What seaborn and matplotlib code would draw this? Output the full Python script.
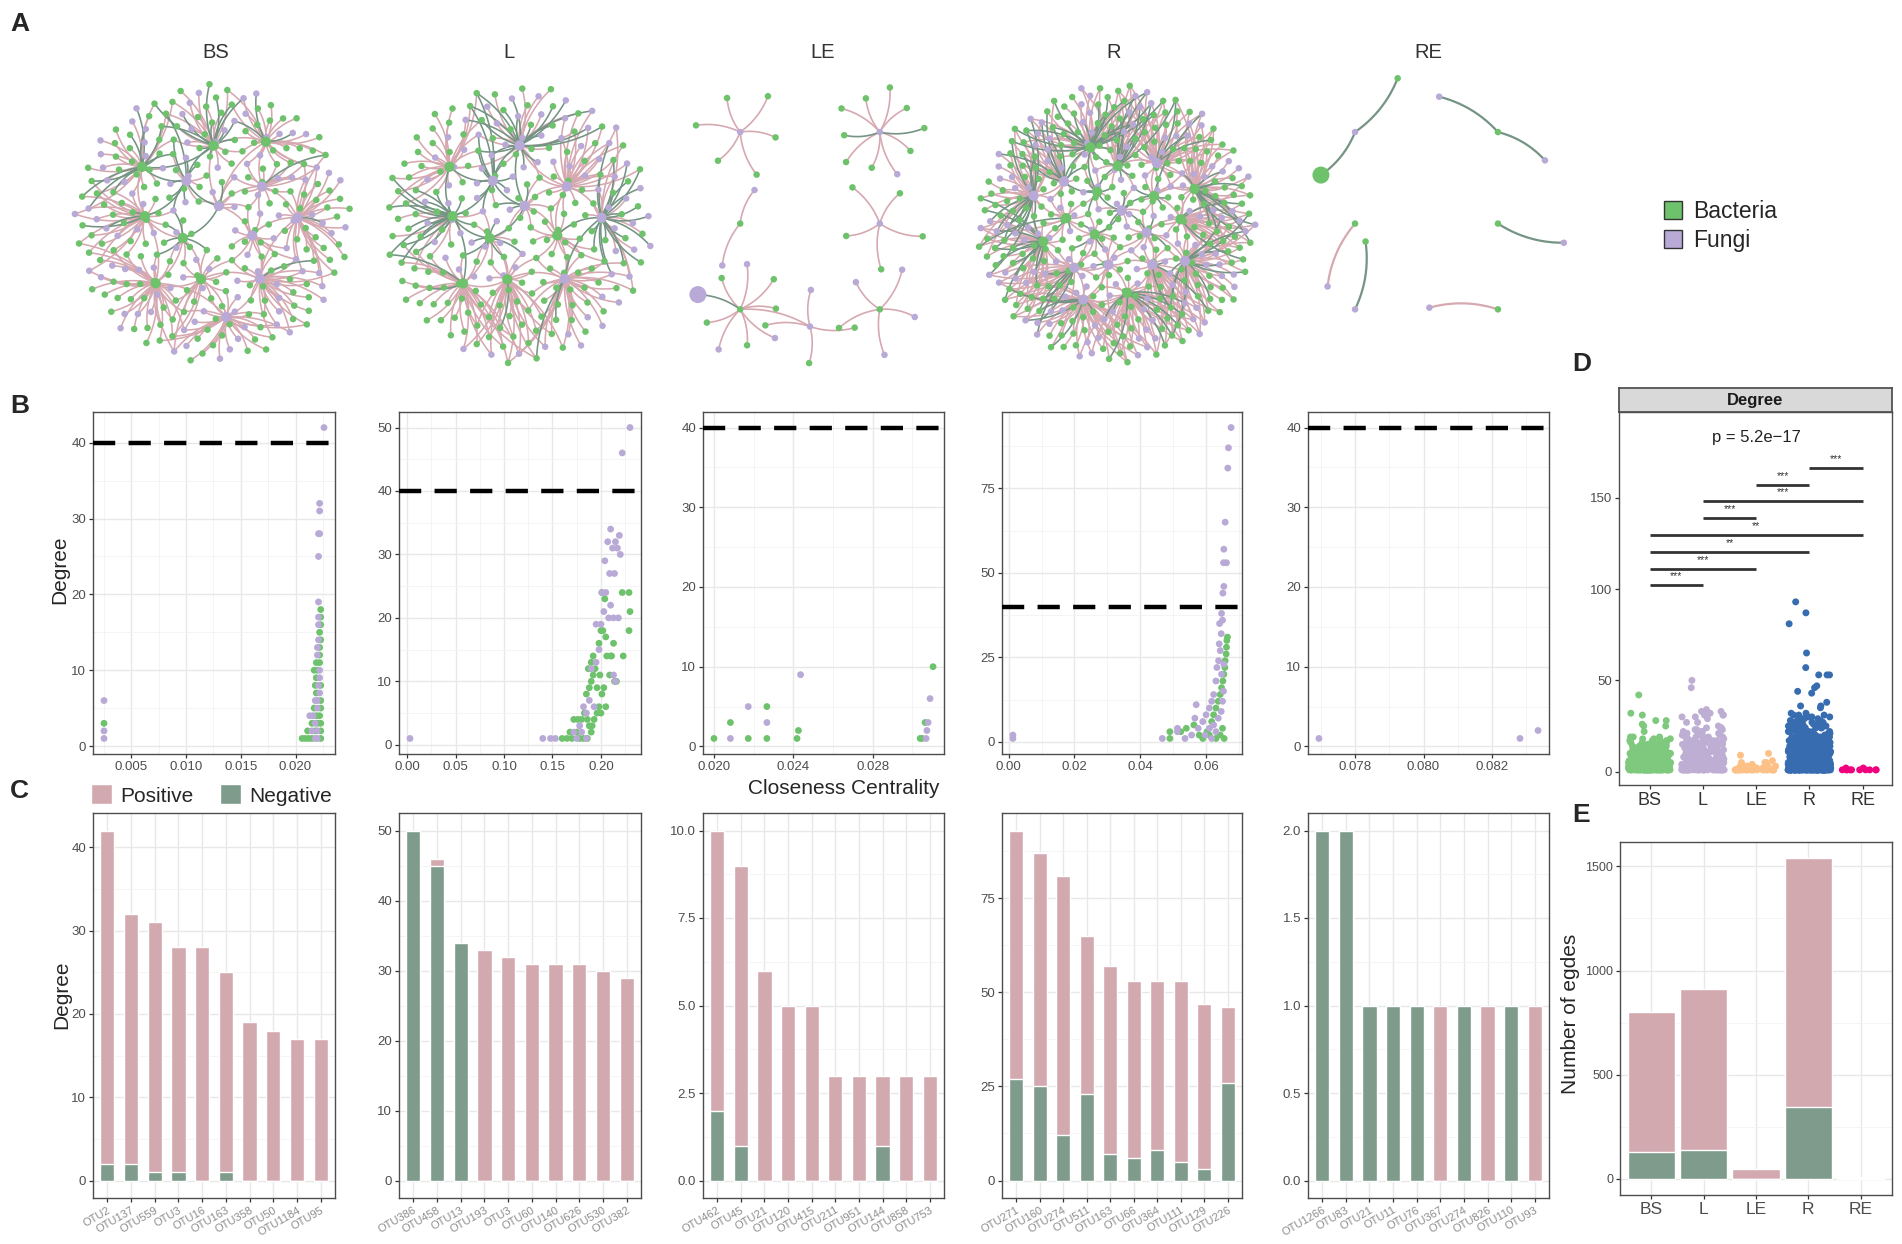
import numpy as np
import pandas as pd
import matplotlib
matplotlib.use("Agg")
import matplotlib.pyplot as plt
import seaborn as sns
from matplotlib.collections import LineCollection
from matplotlib.patches import Patch
from matplotlib.ticker import AutoMinorLocator, FormatStrFormatter

# ----- DATA ----- #
GROUPS = ['BS', 'L', 'LE', 'R', 'RE']

# panel B: closeness centrality vs degree (bacteria / fungi)
BS_CC_B = [.0025, .0206, .0209, .0212, .0215, .0223, .0211, .0218, .0223, .0215, .0220, .0223,
           .0219, .0222, .0217, .0223, .0223, .0219, .0218, .0223, .0219, .0217, .0220, .0219,
           .0222, .0222, .0222, .0223, .0222, .0223, .0223, .0223]
BS_DEG_B = [3, 1, 1, 1, 1, 1, 2, 2, 2, 3, 3, 3, 4, 4, 5, 5, 6, 7, 8, 8, 9, 10, 10, 11, 11,
            12, 13, 14, 15, 16, 17, 18]
BS_CC_F = [.0025, .0025, .0025, .0218, .0220, .0215, .0220, .0218, .0213, .0216, .0220, .0218,
           .0220, .0222, .0221, .0222, .0222, .0220, .0220, .0221, .0221, .0221, .0221, .0221,
           .0221, .0222, .0222, .0222, .0226]
BS_DEG_F = [1, 2, 6, 1, 1, 2, 2, 3, 4, 4, 5, 6, 6, 7, 8, 9, 10, 12, 13, 14, 16, 17, 19, 25,
            28, 28, 31, 32, 42]

L_CC_B = [.160, .165, .168, .170, .175, .178, .182, .186, .190, .172, .176, .180, .183, .186,
          .188, .191, .193, .196, .198, .200, .185, .188, .190, .192, .194, .196, .199, .201,
          .203, .187, .190, .192, .198, .200, .202, .205, .206, .210, .204, .201, .213, .211,
          .223, .229, .230, .222, .229, .214, .216, .205, .209]
L_DEG_B = [1, 1, 2, 1, 2, 1, 1, 1, 2, 4, 4, 4, 5, 4, 3, 3, 4, 5, 6, 5, 8, 9, 10, 11, 12, 9,
           11, 8, 9, 12, 13, 14, 16, 18, 18, 17, 14, 14, 23, 24, 16, 14, 14, 18, 21, 24, 24,
           10, 10, 6, 11]
L_CC_F = [.003, .140, .148, .153, .175, .185, .172, .180, .178, .185, .182, .188, .193, .190,
          .195, .198, .200, .203, .201, .205, .208, .210, .212, .215, .210, .207, .217, .220,
          .219, .214, .209, .204, .213, .218, .195, .215, .213, .222, .230]
L_DEG_F = [1, 1, 1, 1, 1, 1, 2, 2, 3, 5, 6, 7, 6, 12, 13, 15, 19, 21, 24, 24, 20, 22, 31, 32,
           34, 32, 31, 30, 33, 27, 27, 29, 20, 20, 19, 10, 11, 46, 50]

LE_CC_B = [.0200, .02083, .02173, .02267, .02267, .02426, .02419, .03105, .0304, .0305, .03065]
LE_DEG_B = [1, 3, 1, 5, 1, 2, 1, 10, 1, 1, 3]
LE_CC_F = [.02083, .02173, .02267, .02437, .0309, .0308, .03074, .0307]
LE_DEG_F = [1, 5, 3, 9, 6, 3, 2, 1]

R_CC_B = [.049, .049, .0523, .054, .0563, .0579, .059, .0603, .0617, .0623, .063, .0637, .0643,
          .0647, .0651, .0654, .0657, .0658, .0661, .0662, .0663, .0665, .0655, .063, .061,
          .065, .0643]
R_DEG_B = [3, 1, 3, 4, 5, 2, 1, 3, 6, 8, 10, 12, 14, 16, 18, 20, 22, 24, 26, 28, 30, 31, 1, 1,
           2, 4, 2]
R_CC_F = [.0013, .0013, .0467, .0513, .0513, .057, .0566, .0536, .0556, .0576, .059, .060, .061,
          .0617, .0623, .063, .0633, .0638, .0643, .064, .0676, .0668, .0666, .0658, .0654,
          .0653, .0662, .0654, .0651, .0647, .0641, .0650, .0646, .061, .0623, .063, .0637,
          .0617, .0597, .0646, .065, .0653, .0647, .0654]
R_DEG_F = [1, 2, 1, 4, 3, 11, 7, 1, 2, 4, 6, 8, 10, 12, 14, 18, 22, 24, 27, 29, 93, 87, 81, 65,
           57, 53, 53, 46, 44, 38, 35, 36, 32, 4, 5, 3, 7, 1, 2, 9, 12, 15, 20, 23]

RE_CC_B = []
RE_DEG_B = []
RE_CC_F = [.07693, .08283, .08336]
RE_DEG_F = [1, 1, 2]

# panel C: top-10 hubs, total degree and negative links
C_OTUS = [
    ['OTU2', 'OTU137', 'OTU559', 'OTU3', 'OTU16', 'OTU163', 'OTU358', 'OTU50', 'OTU1184', 'OTU95'],
    ['OTU386', 'OTU458', 'OTU13', 'OTU193', 'OTU3', 'OTU60', 'OTU140', 'OTU626', 'OTU530', 'OTU382'],
    ['OTU462', 'OTU45', 'OTU21', 'OTU120', 'OTU415', 'OTU211', 'OTU951', 'OTU144', 'OTU858', 'OTU753'],
    ['OTU271', 'OTU160', 'OTU274', 'OTU511', 'OTU163', 'OTU66', 'OTU364', 'OTU111', 'OTU129', 'OTU226'],
    ['OTU1266', 'OTU83', 'OTU21', 'OTU11', 'OTU76', 'OTU367', 'OTU274', 'OTU826', 'OTU110', 'OTU93'],
]
C_TOTAL = [
    [42, 32, 31, 28, 28, 25, 19, 18, 17, 17],
    [50, 46, 34, 33, 32, 31, 31, 31, 30, 29],
    [10, 9, 6, 5, 5, 3, 3, 3, 3, 3],
    [93, 87, 81, 65, 57, 53, 53, 53, 47, 46],
    [2, 2, 1, 1, 1, 1, 1, 1, 1, 1],
]
C_NEG = [
    [2, 2, 1, 1, 0, 1, 0, 0, 0, 0],
    [50, 45, 34, 0, 0, 0, 0, 0, 0, 0],
    [2, 1, 0, 0, 0, 0, 0, 1, 0, 0],
    [27, 25, 12, 23, 7, 6, 8, 5, 3, 26],
    [2, 2, 1, 1, 1, 0, 1, 0, 1, 0],
]

# panel D: degree of every node (value, number of nodes)
D_BS_VALUES = list(range(1, 20)) + [22, 25, 26, 28, 31, 32, 42]
D_BS_COUNTS = [55, 38, 28, 22, 18, 15, 12, 11, 10, 9, 8, 7, 6, 6, 5, 4, 4, 3, 3, 1, 2, 1, 2, 1, 1, 1]
D_L_VALUES = list(range(1, 25)) + [25, 27, 29, 30, 31, 32, 33, 34, 46, 50]
D_L_COUNTS = [40, 28, 22, 18, 15, 13, 12, 10, 9, 9, 8, 7, 7, 6, 6, 5, 5, 4, 4, 4, 3, 3, 3, 3,
              1, 2, 1, 2, 3, 2, 2, 1, 1, 1]
D_LE_VALUES = [1, 2, 3, 4, 5, 6, 9, 10]
D_LE_COUNTS = [28, 8, 6, 1, 3, 1, 1, 1]
D_R_VALUES = list(range(1, 32)) + [32, 35, 36, 38, 43, 44, 46, 47, 53, 57, 65, 81, 87, 93]
D_R_COUNTS = [90, 65, 50, 40, 34, 30, 26, 22, 20, 18, 16, 15, 14, 13, 12, 11, 10, 9, 8, 8, 7, 7,
              6, 6, 5, 5, 4, 4, 3, 3, 3, 2, 1, 2, 1, 1, 1, 1, 1, 3, 1, 1, 1, 1, 1]
D_RE_VALUES = [1, 2]
D_RE_COUNTS = [10, 2]
D_PAIRS = [(0, 1), (0, 2), (0, 3), (0, 4), (1, 2), (1, 4), (2, 3), (3, 4)]
D_STARS = ['***', '***', '**', '**', '***', '***', '***', '***']
D_PVALUE = 'p = 5.2e\u221217'

# panel E: number of edges
E_TOTAL = [803, 911, 48, 1540, 8]
E_NEG = [129, 140, 0, 343, 6]

# panel A: network structure
BS_NET = dict(n_leaf=300, n_fungi=105, hub_tax='fbffbfbfbbfbfb',
              hub_neg=[.15, .5, .05, .6, 0, .05, .1, .05, .45, 0, .05, .3, 0, .1])
L_NET = dict(n_leaf=260, n_fungi=80, hub_tax='fbbfbfbffbfb',
             hub_neg=[.3, .45, .05, .95, .05, 0, .7, .05, .55, .05, .6, 0])
R_NET = dict(n_leaf=430, n_fungi=150, hub_tax='fbfbfbbfbfbfbfbfbfbf',
             hub_neg=[.5, .3, .2, .4, .1, .3, .2, .1, .4, .2, .1, .3, .2, .1, .3, .2, .4, .1, .2, .3])
# sparse networks: (hub, leaves, edge signs); component id for each star
LE_STARS = [('f', 'bbbbbb', '++++++'), ('f', 'bbbbfbbbbb', '+-++++-+++'), ('b', 'ff', '++'),
            ('f', 'bbbbb', '+++++'), ('b', 'fbFbfbfbb', '++-++++++'), ('f', 'bbbf', '++++'),
            ('b', 'ffffb', '+++++')]
LE_COMP = [0, 1, 2, 3, 4, 4, 5]
RE_STARS = [('f', 'bB', '--'), ('b', 'ff', '--'), ('b', 'f', '+'), ('b', 'f', '-'),
            ('f', 'b', '-'), ('b', 'f', '+')]
RE_COMP = [0, 1, 2, 3, 4, 5]

# ----- STYLE ----- #
BACT, FUNG = '#6DC26B', '#B8A9D6'
POS, NEG = '#D3A9B0', '#7E9B8C'
EDGE_POS, EDGE_NEG = '#D6A9B1', '#759484'
ACCENT = ['#7FC97F', '#BEAED4', '#FDC086', '#386CB0', '#F0027F']
TAX = {'b': BACT, 'B': BACT, 'f': FUNG, 'F': FUNG}

sns.set_theme(style='white')
plt.rcParams['font.family'] = ['Liberation Sans', 'DejaVu Sans']

W, H = 1902, 1244
fig = plt.figure(figsize=(W / 100, H / 100), dpi=100)


def box(x0, y0, x1, y1):
    return fig.add_axes([x0 / W, 1 - y1 / H, (x1 - x0) / W, (y1 - y0) / H])


def gg(ax, grid=True, size=9.5):
    for s in ax.spines.values():
        s.set_visible(True)
        s.set_color('#4D4D4D')
        s.set_linewidth(1.0)
    ax.tick_params(which='major', colors='#333333', labelcolor='#4D4D4D', length=3, width=0.9,
                   labelsize=size, direction='out', bottom=True, left=True, pad=2)
    ax.tick_params(which='minor', length=0)
    if grid:
        ax.grid(True, which='major', color='#E8E8E8', lw=1.0)
        ax.grid(True, which='minor', color='#F3F3F3', lw=0.6)
        ax.set_axisbelow(True)
    else:
        ax.grid(False)


def expand(lo, hi, f=0.05):
    pad = (hi - lo) * f
    return lo - pad, hi + pad


# ----- network helpers ----- #
GOLDEN = np.pi * (3 - np.sqrt(5))


def sunflower(n, hole=0.0):
    k = np.arange(n) + 0.5
    r = np.sqrt(hole ** 2 + (1 - hole ** 2) * k / n)
    return np.c_[r * np.cos(k * GOLDEN), r * np.sin(k * GOLDEN)]


def arc(p, q, bend):
    d = q - p
    c = (p + q) / 2 + bend * np.array([-d[1], d[0]])
    t = np.linspace(0, 1, 14)[:, None]
    return (1 - t) ** 2 * p + 2 * (1 - t) * t * c + t ** 2 * q


def draw_edges(ax, segs, signs, lw):
    ax.add_collection(LineCollection([s for s, g in zip(segs, signs) if g > 0],
                                     colors=EDGE_POS, lw=lw, zorder=1))
    ax.add_collection(LineCollection([s for s, g in zip(segs, signs) if g < 0],
                                     colors=EDGE_NEG, lw=lw, zorder=2))


def dense_network(ax, n_leaf, n_fungi, hub_tax, hub_neg, hole=0.0, share=1.15, spread=0.7):
    leaves = sunflower(n_leaf, hole) * 0.98
    hubs = sunflower(len(hub_tax)) * spread
    k = np.arange(n_leaf)
    fungi = np.floor((k + 1) * n_fungi / n_leaf) > np.floor(k * n_fungi / n_leaf)
    dist = np.linalg.norm(leaves[:, None, :] - hubs[None, :, :], axis=2)
    order = np.argsort(dist, axis=1)
    used = np.zeros(len(hub_tax), int)
    segs, signs = [], []
    for i in range(n_leaf):
        near = order[i]
        targets = [h for h in near[:3] if dist[i, h] < share * dist[i, near[0]]]
        for h in targets:
            c = used[h]
            used[h] += 1
            neg = np.floor((c + 1) * hub_neg[h]) > np.floor(c * hub_neg[h])
            segs.append(arc(leaves[i], hubs[h], 0.16 if i % 2 else -0.16))
            signs.append(-1 if neg else 1)
    hd = np.linalg.norm(hubs[:, None] - hubs[None], axis=2)
    pairs = set()
    for a in range(len(hubs)):
        for b in np.argsort(hd[a])[1:4]:
            pairs.add((min(a, b), max(a, b)))
    for a, b in sorted(pairs):
        segs.append(arc(hubs[a], hubs[b], 0.22))
        signs.append(-1 if (hub_neg[a] + hub_neg[b]) / 2 > 0.3 else 1)
    draw_edges(ax, segs, signs, 1.15)
    ax.scatter(leaves[:, 0], leaves[:, 1], s=22, c=[FUNG if f else BACT for f in fungi],
               linewidths=0, zorder=3)
    ax.scatter(hubs[:, 0], hubs[:, 1], s=55, c=[TAX[t] for t in hub_tax], linewidths=0, zorder=4)


def sparse_network(ax, stars, comps, radius, lw, rows=(0.64, 0.0, -0.6)):
    segs, signs, pts = [], [], []
    for c in sorted(set(comps)):
        centre = np.array([-0.5 + (c % 2), rows[c // 2]])
        members = [i for i, g in enumerate(comps) if g == c]
        prev = None
        for j, i in enumerate(members):
            hub_t, leaf_t, sign_t = stars[i]
            hub = centre + j * np.array([0.5, -0.12])
            n = len(leaf_t)
            a0 = 0.9 + 1.7 * i
            for k, (lt, st) in enumerate(zip(leaf_t, sign_t)):
                ang = a0 + 2 * np.pi * k / n
                r = radius * (1.0 if k % 2 == 0 else 0.8)
                p = hub + r * np.array([np.cos(ang), np.sin(ang)])
                segs.append(arc(hub, p, 0.15 if k % 2 else -0.15))
                signs.append(1 if st == '+' else -1)
                pts.append((p, lt))
            if prev is not None:
                segs.append(arc(prev, hub, 0.15))
                signs.append(1)
            pts.append((hub, hub_t))
            prev = hub
    draw_edges(ax, segs, signs, lw)
    xy = np.array([p for p, _ in pts])
    ax.scatter(xy[:, 0], xy[:, 1], c=[TAX[t] for _, t in pts],
               s=[150 if t.isupper() else 22 for _, t in pts], linewidths=0, zorder=3)


# ----- PANEL A ----- #
net_boxes = [(62, 72, 362, 378), (372, 72, 664, 378), (662, 72, 958, 378),
             (965, 72, 1268, 378), (1275, 72, 1578, 378)]
title_x = [216, 509, 823, 1114, 1428]
for g, bx, tx in zip(GROUPS, net_boxes, title_x):
    ax = box(*bx)
    ax.set_xlim(-1.06, 1.06)
    ax.set_ylim(-1.08, 1.06)
    ax.axis('off')
    if g == 'BS':
        dense_network(ax, hole=0.15, share=1.25, **BS_NET)
    elif g == 'L':
        dense_network(ax, share=1.3, spread=0.65, **L_NET)
    elif g == 'R':
        dense_network(ax, share=1.45, spread=0.62, **R_NET)
    elif g == 'LE':
        sparse_network(ax, LE_STARS, LE_COMP, 0.32, 1.2)
    else:
        sparse_network(ax, RE_STARS, RE_COMP, 0.48, 1.6)
    fig.text(tx / W, 1 - 52 / H, g, ha='center', va='center', fontsize=14.5, color='#333333')

fig.legend(handles=[Patch(facecolor=BACT, edgecolor='#333333', lw=1),
                    Patch(facecolor=FUNG, edgecolor='#333333', lw=1)],
           labels=['Bacteria', 'Fungi'], loc='center left', bbox_to_anchor=(1643 / W, 1 - 226 / H),
           frameon=False, fontsize=16.5, handlelength=0.8, handleheight=0.8, handletextpad=0.5,
           labelspacing=0.25)

# ----- PANEL B ----- #
b_x = [(93, 335), (399, 641), (703, 944), (1002, 1242), (1308, 1549)]
b_data = [(BS_CC_B, BS_DEG_B, BS_CC_F, BS_DEG_F), (L_CC_B, L_DEG_B, L_CC_F, L_DEG_F),
          (LE_CC_B, LE_DEG_B, LE_CC_F, LE_DEG_F), (R_CC_B, R_DEG_B, R_CC_F, R_DEG_F),
          (RE_CC_B, RE_DEG_B, RE_CC_F, RE_DEG_F)]
b_xticks = [[0.005, 0.010, 0.015, 0.020], [0, 0.05, 0.10, 0.15, 0.20], [0.020, 0.024, 0.028],
            [0, 0.02, 0.04, 0.06], [0.078, 0.080, 0.082]]
b_fmt = ['%.3f', '%.2f', '%.3f', '%.2f', '%.3f']
b_yticks = [[0, 10, 20, 30, 40], [0, 10, 20, 30, 40, 50], [0, 10, 20, 30, 40],
            [0, 25, 50, 75], [0, 10, 20, 30, 40]]
for (x0, x1), (ccb, degb, ccf, degf), xt, fm, yt in zip(b_x, b_data, b_xticks, b_fmt, b_yticks):
    ax = box(x0, 412, x1, 754)
    df = pd.DataFrame({'cc': list(ccb) + list(ccf), 'deg': list(degb) + list(degf),
                       'tax': ['Bacteria'] * len(ccb) + ['Fungi'] * len(ccf)})
    sns.scatterplot(data=df, x='cc', y='deg', hue='tax', palette={'Bacteria': BACT, 'Fungi': FUNG},
                    s=24, linewidth=0, legend=False, ax=ax, zorder=3)
    ax.axhline(40, color='black', lw=3.2, ls=(0, (5, 3)), zorder=4)
    ax.set_xlim(*expand(df.cc.min(), df.cc.max()))
    ax.set_ylim(*expand(min(df.deg.min(), 40), max(df.deg.max(), 40)))
    ax.set_xticks(xt)
    ax.xaxis.set_major_formatter(FormatStrFormatter(fm))
    ax.set_yticks(yt)
    ax.xaxis.set_minor_locator(AutoMinorLocator(2))
    ax.yaxis.set_minor_locator(AutoMinorLocator(2))
    ax.set_xlabel('')
    ax.set_ylabel('')
    gg(ax)

fig.text(60 / W, 1 - 570 / H, 'Degree', rotation=90, ha='center', va='center', fontsize=15)
fig.text(844 / W, 1 - 788 / H, 'Closeness Centrality', ha='center', va='center', fontsize=15)

# ----- PANEL C ----- #
c_yticks = [[0, 10, 20, 30, 40], [0, 10, 20, 30, 40, 50], [0, 2.5, 5.0, 7.5, 10.0],
            [0, 25, 50, 75], [0, 0.5, 1.0, 1.5, 2.0]]
c_fmt = ['%d', '%d', '%.1f', '%d', '%.1f']
for (x0, x1), otus, tot, neg, yt, fm in zip(b_x, C_OTUS, C_TOTAL, C_NEG, c_yticks, c_fmt):
    ax = box(x0, 813, x1, 1198)
    sns.barplot(x=otus, y=tot, color=POS, width=0.6, saturation=1, errorbar=None, ax=ax)
    sns.barplot(x=otus, y=neg, color=NEG, width=0.6, saturation=1, errorbar=None, ax=ax)
    ax.set_xlim(-0.6, len(otus) - 0.4)
    ax.set_ylim(*expand(0, max(tot)))
    ax.set_yticks(yt)
    ax.yaxis.set_major_formatter(FormatStrFormatter(fm))
    ax.yaxis.set_minor_locator(AutoMinorLocator(2))
    gg(ax)
    ax.set_xticks(range(len(otus)))
    ax.set_xticklabels(otus, rotation=30, ha='right', rotation_mode='anchor', fontsize=8,
                       color='#8C8C8C')

fig.text(62 / W, 1 - 995 / H, 'Degree', rotation=90, ha='center', va='center', fontsize=15)
fig.legend(handles=[Patch(facecolor=POS), Patch(facecolor=NEG)], labels=['Positive', 'Negative'],
           loc='center left', bbox_to_anchor=(72 / W, 1 - 795 / H), ncol=2, frameon=False,
           fontsize=15, handlelength=1.0, handleheight=1.1, handletextpad=0.4, columnspacing=1.3)

# ----- PANEL D ----- #
d_vals = [D_BS_VALUES, D_L_VALUES, D_LE_VALUES, D_R_VALUES, D_RE_VALUES]
d_cnts = [D_BS_COUNTS, D_L_COUNTS, D_LE_COUNTS, D_R_COUNTS, D_RE_COUNTS]
deg_df = pd.concat([pd.DataFrame({'group': g, 'degree': np.repeat(v, c)})
                    for g, v, c in zip(GROUPS, d_vals, d_cnts)], ignore_index=True)
np.random.seed(7)
ax = box(1619, 412, 1892, 785)
sns.stripplot(data=deg_df, x='group', y='degree', hue='group', palette=ACCENT, order=GROUPS,
              jitter=0.4, size=5, linewidth=0, legend=False, ax=ax)
for i, ((a, b), lab) in enumerate(zip(D_PAIRS, D_STARS)):
    y = 102 + 9.2 * i
    ax.plot([a, b], [y, y], color='#333333', lw=2, solid_capstyle='butt')
    ax.text((a + b) / 2, y + 2.2, lab, ha='center', va='bottom', fontsize=7.5, color='#333333')
ax.text(2, 183, D_PVALUE, ha='center', va='center', fontsize=12, color='#222222')
ax.set_xlim(-0.575, 4.55)
ax.set_ylim(-7.3, 197)
ax.set_yticks([0, 50, 100, 150])
ax.set_xlabel('')
ax.set_ylabel('')
gg(ax, grid=False, size=9.5)
ax.tick_params(axis='x', labelsize=13, labelcolor='#333333')
strip = box(1619, 388, 1892, 412)
strip.set_facecolor('#D9D9D9')
strip.set_xticks([])
strip.set_yticks([])
for s in strip.spines.values():
    s.set_visible(True)
    s.set_color('#4D4D4D')
strip.text(0.5, 0.5, 'Degree', ha='center', va='center', fontsize=12, fontweight='bold',
           color='#1A1A1A', transform=strip.transAxes)

# ----- PANEL E ----- #
ax = box(1620, 842, 1892, 1195)
sns.barplot(x=GROUPS, y=E_TOTAL, color=POS, width=0.9, saturation=1, errorbar=None, ax=ax)
sns.barplot(x=GROUPS, y=E_NEG, color=NEG, width=0.9, saturation=1, errorbar=None, ax=ax)
ax.set_xlim(-0.6, 4.6)
ax.set_ylim(*expand(0, max(E_TOTAL)))
ax.set_yticks([0, 500, 1000, 1500])
ax.yaxis.set_minor_locator(AutoMinorLocator(2))
gg(ax, size=9)
ax.tick_params(axis='x', labelsize=12.5, labelcolor='#4D4D4D')
fig.text(1570 / W, 1 - 1014 / H, 'Number of egdes', rotation=90, ha='center', va='center',
         fontsize=15)

# ----- panel letters ----- #
for lab, (x, y) in zip('ABCDE', [(10, 24), (10, 406), (10, 791), (1572, 364), (1572, 815)]):
    fig.text(x / W, 1 - y / H, lab, ha='left', va='center', fontsize=19, fontweight='bold')

fig.savefig('out.png', dpi=100, facecolor='white')
